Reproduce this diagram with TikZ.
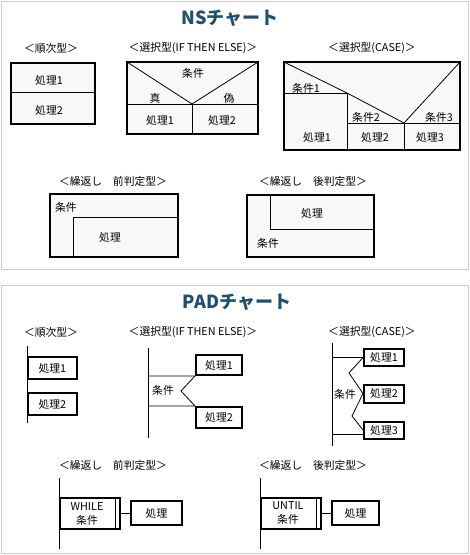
\documentclass[tikz,border=0pt]{standalone}
\usepackage{fontspec}
\setmainfont{Noto Sans CJK JP}
\usetikzlibrary{positioning}
\definecolor{titleblue}{HTML}{1F4E6E}
\definecolor{framegray}{HTML}{CCCCCC}
\definecolor{boxfill}{HTML}{F8F8F8}

\begin{document}
\begin{tikzpicture}[x=1pt, y=-1pt, font=\fontsize{10.8}{14}\selectfont,
    title/.style={font=\fontsize{18}{20}\selectfont\bfseries, text=titleblue},
    frame/.style={draw=framegray, line width=1pt},
    nsbox/.style={draw, line width=2pt, fill=boxfill},
    thin/.style={line width=0.8pt},
    pad/.style={draw, line width=2pt, fill=white, inner sep=0pt}]
    \useasboundingbox (0,0) rectangle (470,555);
    \draw[frame] (1,1) rectangle (468,269);
    \draw[frame] (1,285) rectangle (468,553.5);

    \node[title] (nstitle) at (230,18) {NSチャート};
    \node (lseq) at (51,48) {＜順次型＞};
    \node (lif) at (193,48) {＜選択型(IF THEN ELSE)＞};
    \node (lcase) at (372,48) {＜選択型(CASE)＞};
    \node (lpre) at (113,181) {＜繰返し　前判定型＞};
    \node (lpost) at (313,181) {＜繰返し　後判定型＞};

    \draw[nsbox] (10.5,63) rectangle (94.5,124);
    \draw[thin] (10.5,92) -- (94.5,92);
    \node (s1) at (49,80) {処理1};
    \node (s2) at (49,110) {処理2};

    \draw[nsbox] (127,62) rectangle (258,134);
    \draw[thin] (127,62) -- (192,104) -- (258,62);
    \draw[thin] (127,104) -- (258,104);
    \draw[thin] (192,104) -- (192,134);
    \node (ic) at (193,73) {条件};
    \node (it) at (155,98) {真};
    \node (if) at (229,98) {偽};
    \node (i1) at (160,120) {処理1};
    \node (i2) at (222,120) {処理2};

    \draw[nsbox] (284,62) rectangle (460,150);
    \draw[thin] (284,62) -- (347,93) -- (404,123) -- (460,62);
    \draw[thin] (284,93) -- (347,93) -- (347,150);
    \draw[thin] (347,123) -- (460,123);
    \draw[thin] (404,123) -- (404,150);
    \node (c1) at (306,88) {条件1};
    \node (c2) at (366,117) {条件2};
    \node (c3) at (439,117) {条件3};
    \node (cp1) at (317,137) {処理1};
    \node (cp2) at (375,137) {処理2};
    \node (cp3) at (430,137) {処理3};

    \draw[nsbox] (50,194) rectangle (178,257);
    \draw[thin] (73,257) -- (73,217) -- (178,217);
    \node (wc) at (66,207) {条件};
    \node (wp) at (110,237) {処理};

    \draw[nsbox] (247,195) rectangle (374,257);
    \draw[thin] (270,195) -- (270,229) -- (374,229);
    \node (up) at (312,213) {処理};
    \node (uc) at (268,243) {条件};

    \node[title] (padtitle) at (237,302) {PADチャート};
    \node (pseq) at (51,332) {＜順次型＞};
    \node (pif) at (193,332) {＜選択型(IF THEN ELSE)＞};
    \node (pcase) at (372,332) {＜選択型(CASE)＞};
    \node (ppre) at (113,465) {＜繰返し　前判定型＞};
    \node (ppost) at (313,465) {＜繰返し　後判定型＞};

    \coordinate (qtop) at (27,346);
    \coordinate (qbot) at (27,423);
    \draw[thin] (qtop) -- (qbot);
    \node[pad, minimum width=49pt, minimum height=22pt] (q1) at (52.3,368) {処理1};
    \node[pad, minimum width=49pt, minimum height=22pt] (q2) at (52.3,404) {処理2};

    \coordinate (btop) at (148,348);
    \coordinate (bbot) at (148,438);
    \draw[thin] (btop) -- (bbot);
    \node[pad, minimum width=46pt, minimum height=20pt] (b1) at (219,365) {処理1};
    \node[pad, minimum width=46pt, minimum height=21pt] (b2) at (219,417.5) {処理2};
    \coordinate (bv) at (181,391);
    \draw[thin] (b1.south west -| btop) -- (b1.south west) -- (bv) -- (b2.north west) -- (b2.north west -| btop);
    \node (bc) at (163,390) {条件};

    \coordinate (ktop) at (332,343);
    \coordinate (kbot) at (332,446);
    \draw[thin] (ktop) -- (kbot);
    \node[pad, minimum width=40pt, minimum height=17pt] (k1) at (384,357.5) {処理1};
    \node[pad, minimum width=40pt, minimum height=18pt] (k2) at (384,393.5) {処理2};
    \node[pad, minimum width=40pt, minimum height=17pt] (k3) at (384,430) {処理3};
    \coordinate (kv1) at (349,373);
    \coordinate (kv2) at (352,416);
    \coordinate (kb) at (332,434);
    \draw[thin] (k1.west -| ktop) -- (k1.west);
    \draw[thin] (k1.west) -- (kv1) -- (k2.west) -- (kv2) -- (k3.west);
    \draw[thin] (kb) -- (kb -| k3.west);
    \node (kc) at (345,394) {条件};

    \coordinate (wtop) at (59,478);
    \coordinate (wbot) at (59,549);
    \draw[thin] (wtop) -- (wbot);
    \node[pad, minimum width=59.5pt, minimum height=31pt] (w) at (89.8,513) {};
    \draw[thin] ([xshift=-5.5pt]w.north east) -- ([xshift=-5.5pt]w.south east);
    \node[align=center, inner sep=0pt] (wt) at (87,513.5) {WHILE\\条件};
    \node[pad, minimum width=51pt, minimum height=24pt] (w1) at (156.5,513) {処理};
    \draw[thin] (w.east) -- (w1.west);

    \coordinate (utop) at (260,478);
    \coordinate (ubot) at (260,549);
    \draw[thin] (utop) -- (ubot);
    \node[pad, minimum width=59.5pt, minimum height=31pt] (u) at (290.8,513) {};
    \draw[thin] ([xshift=-5.5pt]u.north east) -- ([xshift=-5.5pt]u.south east);
    \node[align=center, inner sep=0pt] (ut) at (288,512.5) {UNTIL\\条件};
    \node[pad, minimum width=47pt, minimum height=24pt] (u1) at (355.5,513) {処理};
    \draw[thin] (u.east) -- (u1.west);
\end{tikzpicture}
\end{document}
